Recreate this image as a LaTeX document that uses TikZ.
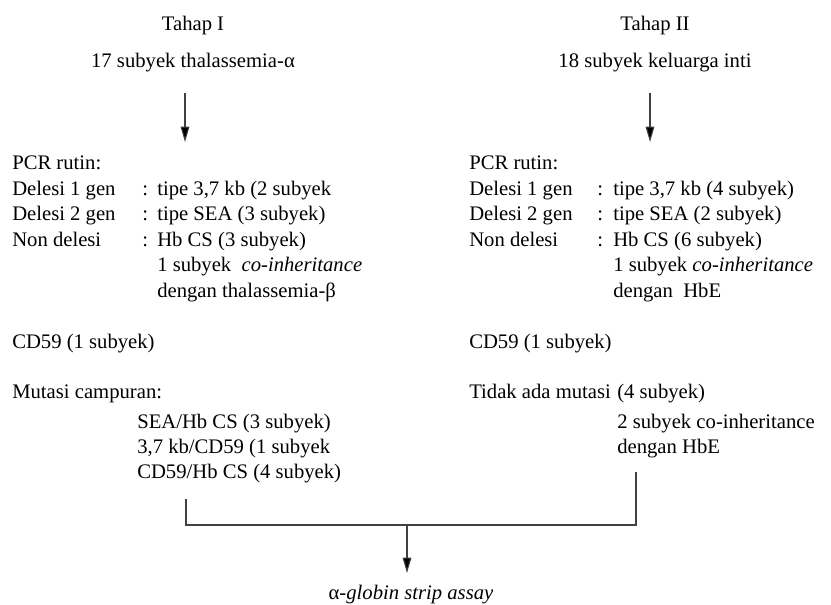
\documentclass[tikz,border=0pt]{standalone}
\usepackage{fontspec}
\setmainfont{Liberation Serif}
\usetikzlibrary{arrows.meta}
\begin{document}
\begin{tikzpicture}[x=0.75pt,y=-0.75pt,
  txt/.style={inner sep=0pt, anchor=base west, font=\fontsize{15.5}{18}\selectfont},
  ctr/.style={inner sep=0pt, anchor=base, font=\fontsize{15.5}{18}\selectfont},
  conn/.style={line width=0.8pt, draw=black!75},
  arr/.style={conn, -{Triangle[length=11.5pt,width=6.5pt,fill=black]}}]
\useasboundingbox (0,0) rectangle (831,605);
% ---------- Tahap I ----------
\node[ctr] (t1) at (193,31) {Tahap I};
\node[ctr] (s1) at (193,68) {17 subyek thalassemia-α};
\coordinate (a1s) at (185,93);
\coordinate (a1e) at (185,142);
\draw[arr] (a1s) -- (a1e);
\node[txt] (p1) at (12,170) {PCR rutin:};
\node[txt] (l1a) at (12,196) {Delesi 1 gen};
\node[txt] (c1a) at (142,196) {:};
\node[txt] (v1a) at (157,196) {tipe 3,7 kb (2 subyek};
\node[txt] (l1b) at (12,221) {Delesi 2 gen};
\node[txt] (c1b) at (142,221) {:};
\node[txt] (v1b) at (157,221) {tipe SEA (3 subyek)};
\node[txt] (l1c) at (12,247) {Non delesi};
\node[txt] (c1c) at (142,247) {:};
\node[txt] (v1c) at (157,247) {Hb CS (3 subyek)};
\node[txt] (v1d) at (157,272) {1 subyek \ \textit{co-inheritance}};
\node[txt] (v1e) at (157,298) {dengan thalassemia-β};
\node[txt] (cd1) at (12,349) {CD59 (1 subyek)};
\node[txt] (m1) at (12,399) {Mutasi campuran:};
\node[txt] (m1a) at (137,428) {SEA/Hb CS (3 subyek)};
\node[txt] (m1b) at (137,453) {3,7 kb/CD59 (1 subyek};
\node[txt] (m1c) at (137,478) {CD59/Hb CS (4 subyek)};
% ---------- Tahap II ----------
\node[ctr] (t2) at (655,31) {Tahap II};
\node[ctr] (s2) at (655,68) {18 subyek keluarga inti};
\coordinate (a2s) at (650,93);
\coordinate (a2e) at (650,142);
\draw[arr] (a2s) -- (a2e);
\node[txt] (p2) at (469,170) {PCR rutin:};
\node[txt] (l2a) at (469,196) {Delesi 1 gen};
\node[txt] (c2a) at (597,196) {:};
\node[txt] (v2a) at (613,196) {tipe 3,7 kb (4 subyek)};
\node[txt] (l2b) at (469,221) {Delesi 2 gen};
\node[txt] (c2b) at (597,221) {:};
\node[txt] (v2b) at (613,221) {tipe SEA (2 subyek)};
\node[txt] (l2c) at (469,247) {Non delesi};
\node[txt] (c2c) at (597,247) {:};
\node[txt] (v2c) at (613,247) {Hb CS (6 subyek)};
\node[txt] (v2d) at (613,272) {1 subyek \textit{co-inheritance}};
\node[txt] (v2e) at (613,298) {dengan \ HbE};
\node[txt] (cd2) at (469,349) {CD59 (1 subyek)};
\node[txt] (m2) at (469,399) {Tidak ada mutasi};
\node[txt] (m2n) at (617,399) {(4 subyek)};
\node[txt] (m2a) at (617,428) {2 subyek co-inheritance};
\node[txt] (m2b) at (617,453) {dengan HbE};
% ---------- merge ----------
\coordinate (bl) at (186,499);
\coordinate (blc) at (186,525);
\coordinate (brc) at (636,525);
\coordinate (br) at (636,472);
\draw[conn] (bl) -- (blc) -- (brc) -- (br);
\coordinate (ms) at (407,525);
\coordinate (me) at (407,573);
\draw[arr] (ms) -- (me);
\node[ctr] (asy) at (411,599) {α\textit{-globin strip assay}};
\end{tikzpicture}
\end{document}
